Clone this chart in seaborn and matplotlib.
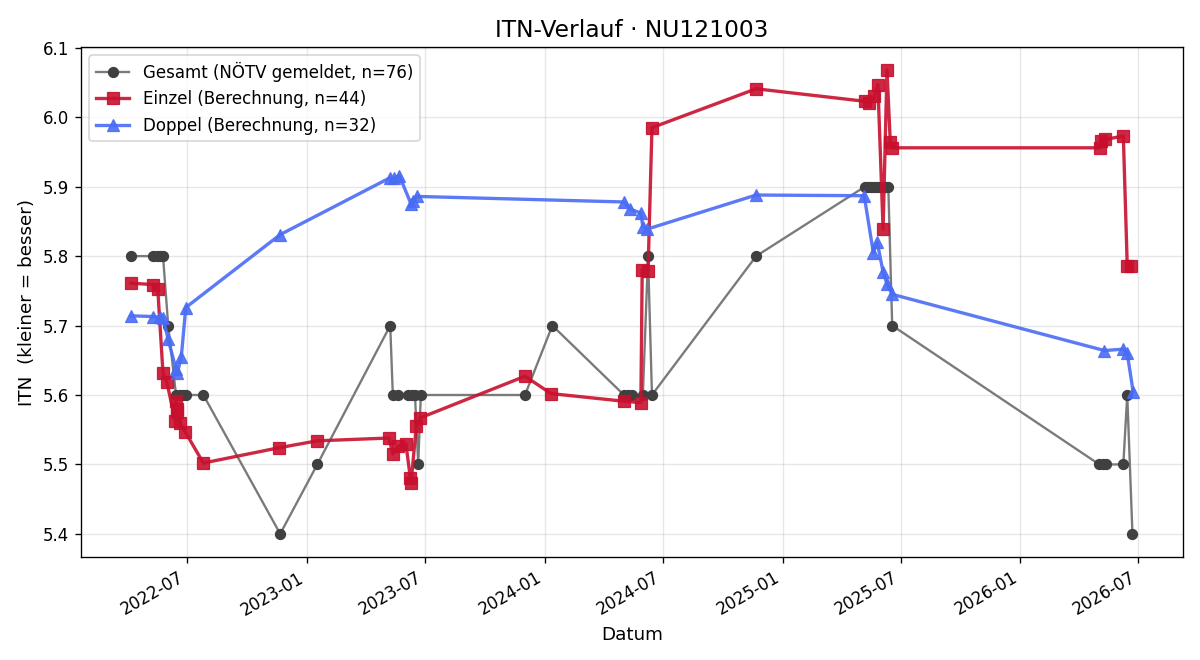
import pandas as pd
import matplotlib
matplotlib.use("Agg")
import matplotlib.pyplot as plt
import matplotlib.dates as mdates
import seaborn as sns

# Gesamt (NÖTV gemeldet)
gesamt_dates = [
    "2022-04-06", "2022-05-10", "2022-05-16", "2022-05-21", "2022-05-25",
    "2022-06-02", "2022-06-14", "2022-06-20", "2022-06-25", "2022-06-29",
    "2022-07-26", "2022-11-21", "2023-01-17", "2023-05-09", "2023-05-13",
    "2023-05-21", "2023-06-05", "2023-06-12", "2023-06-16", "2023-06-21",
    "2023-06-25", "2023-12-02", "2024-01-13", "2024-05-02", "2024-05-08",
    "2024-05-15", "2024-05-31", "2024-06-08", "2024-06-14", "2024-11-21",
    "2025-05-07", "2025-05-12", "2025-05-16", "2025-05-21", "2025-05-26",
    "2025-05-30", "2025-06-04", "2025-06-08", "2025-06-12", "2025-06-18",
    "2026-05-02", "2026-05-08", "2026-05-13", "2026-06-08", "2026-06-14",
    "2026-06-22",
]
gesamt_itn = [
    5.8, 5.8, 5.8, 5.8, 5.8,
    5.7, 5.6, 5.6, 5.6, 5.6,
    5.6, 5.4, 5.5, 5.7, 5.6,
    5.6, 5.6, 5.6, 5.6, 5.5,
    5.6, 5.6, 5.7, 5.6, 5.6,
    5.6, 5.6, 5.8, 5.6, 5.8,
    5.9, 5.9, 5.9, 5.9, 5.9,
    5.9, 5.9, 5.9, 5.9, 5.7,
    5.5, 5.5, 5.5, 5.5, 5.6,
    5.4,
]

# Einzel (Berechnung)
einzel_dates = [
    "2022-04-06", "2022-05-10", "2022-05-17", "2022-05-25", "2022-05-31",
    "2022-06-13", "2022-06-14", "2022-06-15", "2022-06-16", "2022-06-20",
    "2022-06-28", "2022-07-26", "2022-11-19", "2023-01-17", "2023-05-07",
    "2023-05-13", "2023-05-21", "2023-06-02", "2023-06-09", "2023-06-10",
    "2023-06-18", "2023-06-24", "2023-12-02", "2024-01-11", "2024-05-02",
    "2024-05-28", "2024-05-30", "2024-06-08", "2024-06-14", "2024-11-21",
    "2025-05-07", "2025-05-14", "2025-05-21", "2025-05-27", "2025-06-04",
    "2025-06-10", "2025-06-15", "2025-06-18", "2026-05-03", "2026-05-05",
    "2026-05-11", "2026-06-08", "2026-06-14", "2026-06-20",
]
einzel_itn = [
    5.761, 5.759, 5.752, 5.631, 5.618,
    5.562, 5.592, 5.575, 5.580, 5.559,
    5.547, 5.502, 5.524, 5.534, 5.538,
    5.515, 5.526, 5.530, 5.480, 5.473,
    5.555, 5.567, 5.627, 5.602, 5.591,
    5.589, 5.780, 5.778, 5.985, 6.041,
    6.023, 6.021, 6.030, 6.047, 5.839,
    6.068, 5.965, 5.956, 5.956, 5.966,
    5.968, 5.973, 5.786, 5.786,
]

# Doppel (Berechnung)
doppel_dates = [
    "2022-04-06", "2022-05-10", "2022-05-21", "2022-05-25", "2022-06-02",
    "2022-06-14", "2022-06-16", "2022-06-22", "2022-06-29", "2022-11-21",
    "2023-05-09", "2023-05-15", "2023-05-23", "2023-06-10", "2023-06-13",
    "2023-06-19", "2024-05-02", "2024-05-11", "2024-05-28", "2024-05-31",
    "2024-06-07", "2024-11-21", "2025-05-06", "2025-05-20", "2025-05-26",
    "2025-06-04", "2025-06-10", "2025-06-18", "2026-05-10", "2026-06-08",
    "2026-06-14", "2026-06-23",
]
doppel_itn = [
    5.714, 5.713, 5.712, 5.711, 5.680,
    5.637, 5.632, 5.654, 5.726, 5.831,
    5.913, 5.912, 5.916, 5.875, 5.880,
    5.886, 5.878, 5.868, 5.862, 5.842,
    5.839, 5.888, 5.887, 5.805, 5.820,
    5.777, 5.760, 5.745, 5.664, 5.666,
    5.660, 5.605,
]

df_g = pd.DataFrame({"Datum": pd.to_datetime(gesamt_dates), "ITN": gesamt_itn})
df_e = pd.DataFrame({"Datum": pd.to_datetime(einzel_dates), "ITN": einzel_itn})
df_d = pd.DataFrame({"Datum": pd.to_datetime(doppel_dates), "ITN": doppel_itn})

fig, ax = plt.subplots(figsize=(10, 5.5), dpi=120)

sns.lineplot(data=df_g, x="Datum", y="ITN", ax=ax, estimator=None, sort=False,
             color="#7a7a7a", linewidth=1.4, marker="o", markersize=6,
             markerfacecolor="#404040", markeredgecolor="#404040",
             label="Gesamt (NÖTV gemeldet, n=76)")
sns.lineplot(data=df_e, x="Datum", y="ITN", ax=ax, estimator=None, sort=False,
             color="#c8102e", alpha=0.9, linewidth=2, marker="s", markersize=7,
             markeredgecolor="#c8102e", label=f"Einzel (Berechnung, n={len(df_e)})")
sns.lineplot(data=df_d, x="Datum", y="ITN", ax=ax, estimator=None, sort=False,
             color="#4a6cf5", alpha=0.9, linewidth=2, marker="^", markersize=7,
             markeredgecolor="#4a6cf5", label=f"Doppel (Berechnung, n={len(df_d)})")

ax.set_title("ITN-Verlauf · NU121003", fontsize=14)
ax.set_xlabel("Datum", fontsize=11)
ax.set_ylabel("ITN  (kleiner = besser)", fontsize=11)
ax.grid(True, alpha=0.3)
ax.xaxis.set_major_locator(mdates.MonthLocator(bymonth=[1, 7]))
ax.xaxis.set_major_formatter(mdates.DateFormatter("%Y-%m"))
ax.tick_params(labelsize=10)
ax.legend(loc="upper left", fontsize=10)
fig.autofmt_xdate()
fig.subplots_adjust(left=0.0675, right=0.986, top=0.929, bottom=0.156)
fig.savefig("out.png")
